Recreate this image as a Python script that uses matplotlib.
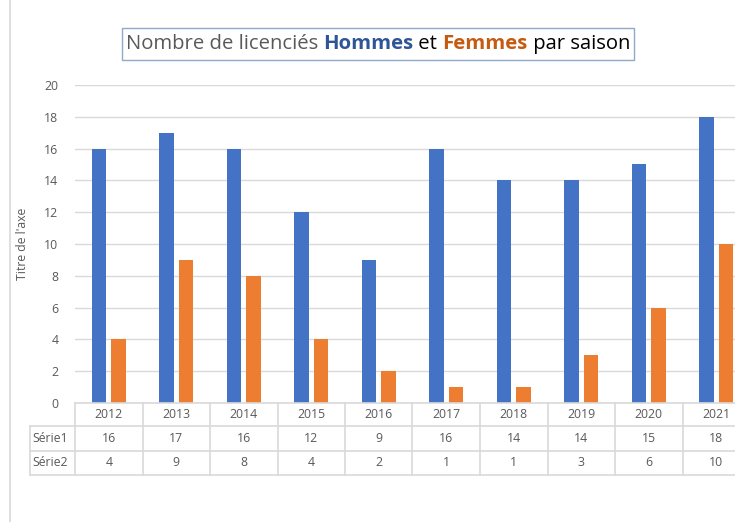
import matplotlib
matplotlib.use("Agg")
import matplotlib.pyplot as plt
from matplotlib.patches import Rectangle
from matplotlib.lines import Line2D
import numpy as np

years = ["2012", "2013", "2014", "2015", "2016", "2017", "2018", "2019", "2020", "2021"]
serie1 = [16, 17, 16, 12, 9, 16, 14, 14, 15, 18]
serie2 = [4, 9, 8, 4, 2, 1, 1, 3, 6, 10]
series_names = ["Série1", "Série2"]
yticks = [0, 2, 4, 6, 8, 10, 12, 14, 16, 18, 20]

W, H = 735, 522
FONT = "Open Sans"
TXT = "#595959"
GRID = "#D9D9D9"
BLUE = "#4472C4"
ORANGE = "#ED7D31"

fig = plt.figure(figsize=(W / 100, H / 100), dpi=100)
fig.patch.set_facecolor("white")

def fx(px):
    return px / W

def fy(py):
    return 1 - py / H

# plot area in pixels
left, right = 75, 750
top, bottom = 85, 403
ax = fig.add_axes([fx(left), fy(bottom), (right - left) / W, (bottom - top) / H])
x = np.arange(len(years))
bw = 0.215
gap = 0.067
ax.bar(x - (bw + gap) / 2, serie1, width=bw, color=BLUE, zorder=3)
ax.bar(x + (bw + gap) / 2, serie2, width=bw, color=ORANGE, zorder=3)
ax.set_xlim(-0.5, len(years) - 0.5)
ax.set_ylim(0, 20)
ax.set_yticks(yticks)
ax.yaxis.grid(True, color=GRID, linewidth=1, zorder=0)
for s in ax.spines.values():
    s.set_visible(False)
ax.tick_params(axis="y", length=0, pad=12, labelsize=8.8, labelcolor=TXT)
ax.tick_params(axis="x", length=0, labelbottom=False)
for lab in ax.get_yticklabels():
    lab.set_fontfamily(FONT)
ax.set_ylabel("Titre de l'axe", fontsize=8.8, color=TXT, fontfamily=FONT)
ax.yaxis.set_label_coords(-46 / (right - left), 0.5)

# data table
rows_y = [403, 426, 451, 475]
lc = GRID
lw = 1.2
fig.add_artist(Line2D([fx(75), 1.0], [fy(403)] * 2, color=lc, lw=lw))
for yy in rows_y[1:]:
    fig.add_artist(Line2D([fx(30), 1.0], [fy(yy)] * 2, color=lc, lw=lw))
fig.add_artist(Line2D([fx(30)] * 2, [fy(426), fy(475)], color=lc, lw=lw))
catw = (right - left) / len(years)
for i in range(len(years) + 1):
    xx = left + i * catw
    fig.add_artist(Line2D([fx(xx)] * 2, [fy(403), fy(475)], color=lc, lw=lw))

def row_center(i):
    return (rows_y[i] + rows_y[i + 1]) / 2

TS = 8.8
for i, yr in enumerate(years):
    cx = left + (i + 0.5) * catw
    fig.text(fx(cx), fy(row_center(0)), yr, ha="center", va="center",
             fontsize=TS, color=TXT, fontfamily=FONT)
    fig.text(fx(cx), fy(row_center(1)), str(serie1[i]), ha="center", va="center",
             fontsize=TS, color=TXT, fontfamily=FONT)
    fig.text(fx(cx), fy(row_center(2)), str(serie2[i]), ha="center", va="center",
             fontsize=TS, color=TXT, fontfamily=FONT)
for j, nm in enumerate(series_names):
    fig.text(fx(32), fy(row_center(j + 1)), nm, ha="left", va="center",
             fontsize=TS, color=TXT, fontfamily=FONT)

# left border line
fig.add_artist(Line2D([fx(10)] * 2, [0, 1], color=GRID, lw=1.2))

# title box
fig.add_artist(Rectangle((fx(122), fy(60)), (634 - 122) / W, (60 - 28) / H,
                         transform=fig.transFigure, fill=False,
                         edgecolor="#8EA9C9", lw=1.0))

parts = [("Nombre de licenciés ", "#595959", "normal"),
         ("Hommes", "#2F5597", "bold"),
         (" et ", "#000000", "normal"),
         ("Femmes", "#C55A11", "bold"),
         (" par saison", "#000000", "normal")]
tsize = 14.6
renderer = fig.canvas.get_renderer()
texts = []
for s, c, w in parts:
    t = fig.text(0, fy(44), s, color=c, fontweight=w, fontsize=tsize,
                 fontfamily=FONT, ha="left", va="center")
    texts.append(t)
widths = [t.get_window_extent(renderer).width for t in texts]
total = sum(widths)
xstart = 378 - total / 2
for t, wdt in zip(texts, widths):
    t.set_x(fx(xstart))
    xstart += wdt

fig.savefig("out.png", dpi=100)
